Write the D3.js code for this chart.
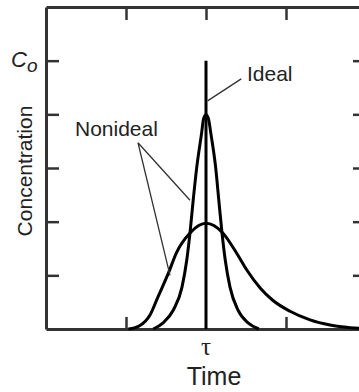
<!DOCTYPE html>
<html>
<head>
<meta charset="utf-8">
<script src="https://cdn.jsdelivr.net/npm/d3@7"></script>
<style>
  body { margin: 0; background: #fff; }
  svg { display: block; font-family: "Liberation Sans", Arial, Helvetica, sans-serif; }
</style>
</head>
<body>
<svg id="chart"></svg>
<script>
// values (time in tick units, concentration in tick units, C0 = 5)
const tickTimes = [1, 2, 3];
const tickConc = [1, 2, 3, 4, 5];
const idealTime = 2;
const idealConc = 5;

const narrowTime = [1.34, 1.46, 1.59, 1.70, 1.76, 1.80, 1.84, 1.885, 1.945, 1.97, 2.0,
                    2.03, 2.06, 2.12, 2.16, 2.20, 2.24, 2.30, 2.40, 2.53, 2.66];
const narrowConc = [0, 0.11, 0.35, 0.78, 1.29, 1.79, 2.40, 3.02, 3.65, 3.92, 3.99,
                    3.92, 3.65, 3.02, 2.40, 1.79, 1.29, 0.78, 0.35, 0.11, 0];

const wideTime = [1.03, 1.175, 1.30, 1.40, 1.53, 1.63, 1.80, 2.0,
                  2.21, 2.38, 2.51, 2.68, 2.83, 3.05, 3.30, 3.55, 3.80, 4.05, 4.3];
const wideConc = [0, 0.065, 0.26, 0.60, 1.04, 1.42, 1.79, 1.97,
                  1.79, 1.42, 1.10, 0.76, 0.54, 0.33, 0.17, 0.075, 0.025, 0.005, 0];

// leader lines for the labels
const idealLeader = [[2.44, 4.66], [2.02, 4.25]];
const nonidealLeader = [[1.8, 2.40], [1.15, 3.47], [1.55, 1.0]];

const W = 359, H = 392;
const margin = { top: 7, left: 46 };
const plotW = 320, plotH = 322;

const svg = d3.select('#chart').attr('width', W).attr('height', H);
const chart = svg.append('g').attr('transform', `translate(${margin.left},${margin.top})`);

const xScale = d3.scaleLinear().domain([0, 4]).range([0, plotW]);
const yScale = d3.scaleLinear().domain([0, 6]).range([plotH, 0]);

const axisColor = '#333';

function styleAxis(g) {
  g.select('.domain').attr('stroke', axisColor).attr('stroke-width', 3);
  g.selectAll('.tick line').attr('stroke', axisColor).attr('stroke-width', 2.5);
  g.selectAll('.tick text').remove();
}

// axes, ticks pointing inward
chart.append('g')
  .attr('transform', `translate(0,${plotH})`)
  .call(d3.axisBottom(xScale).tickValues(tickTimes.filter(t => t !== idealTime)).tickSizeInner(-12).tickSizeOuter(0))
  .call(styleAxis);
chart.append('g')
  .call(d3.axisTop(xScale).tickValues(tickTimes).tickSizeInner(-13).tickSizeOuter(0))
  .call(styleAxis);
chart.append('g')
  .call(d3.axisLeft(yScale).tickValues(tickConc).tickSizeInner(-13).tickSizeOuter(0))
  .call(styleAxis);
chart.append('g')
  .attr('transform', `translate(${plotW},0)`)
  .call(d3.axisRight(yScale).tickValues(tickConc).tickSizeInner(-13).tickSizeOuter(0))
  .call(styleAxis);

const line = d3.line()
  .x(d => xScale(d[0]))
  .y(d => yScale(d[1]))
  .curve(d3.curveMonotoneX);

chart.append('path')
  .datum(wideTime.map((t, i) => [t, wideConc[i]]))
  .attr('fill', 'none').attr('stroke', '#000').attr('stroke-width', 3)
  .attr('d', line);

chart.append('path')
  .datum(narrowTime.map((t, i) => [t, narrowConc[i]]))
  .attr('fill', 'none').attr('stroke', '#000').attr('stroke-width', 3)
  .attr('d', line);

// ideal (plug flow) response
chart.append('line')
  .attr('x1', xScale(idealTime)).attr('x2', xScale(idealTime))
  .attr('y1', yScale(0)).attr('y2', yScale(idealConc))
  .attr('stroke', '#000').attr('stroke-width', 3);

const straight = d3.line().x(d => xScale(d[0])).y(d => yScale(d[1]));
chart.append('path').datum(idealLeader)
  .attr('fill', 'none').attr('stroke', '#333').attr('stroke-width', 1.3).attr('d', straight);
chart.append('path').datum(nonidealLeader)
  .attr('fill', 'none').attr('stroke', '#333').attr('stroke-width', 1.3).attr('d', straight);

// labels
svg.append('text').attr('x', 247).attr('y', 81).attr('font-size', 21).attr('fill', '#222').text('Ideal');
svg.append('text').attr('x', 75).attr('y', 136).attr('font-size', 21).attr('fill', '#222').text('Nonideal');

const c0 = svg.append('text').attr('x', 11).attr('y', 67).attr('font-size', 22)
  .attr('font-style', 'italic').attr('fill', '#222');
c0.append('tspan').text('C');
c0.append('tspan').attr('font-size', 19).attr('dy', 5).text('o');

svg.append('text')
  .attr('transform', 'translate(32,171) rotate(-90)')
  .attr('text-anchor', 'middle').attr('font-size', 21).attr('fill', '#222')
  .text('Concentration');

svg.append('text').attr('x', 206).attr('y', 355).attr('text-anchor', 'middle')
  .attr('font-size', 25).attr('font-family', '"Liberation Serif", serif').attr('fill', '#222')
  .text('τ');

svg.append('text').attr('x', 214).attr('y', 385).attr('text-anchor', 'middle')
  .attr('font-size', 25).attr('fill', '#222').text('Time');
</script>
</body>
</html>
